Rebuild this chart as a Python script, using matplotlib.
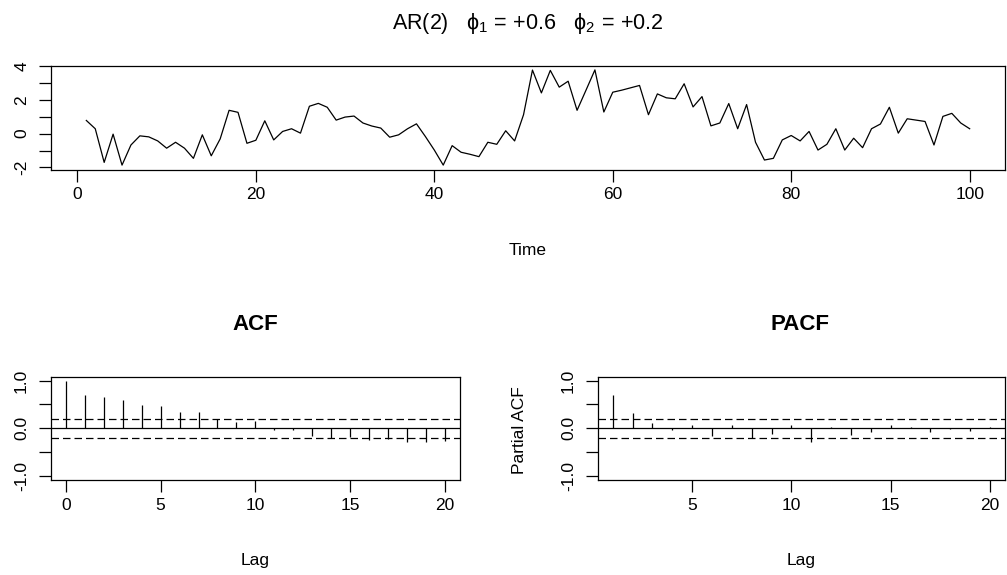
import matplotlib
matplotlib.use('Agg')
import matplotlib.pyplot as plt

# 그림에서 읽은 값
time = list(range(1, 101))
series = [0.78, 0.29, -1.70, -0.03, -1.86, -0.67, -0.13, -0.19, -0.43, -0.86,
          -0.51, -0.86, -1.46, -0.07, -1.31, -0.31, 1.38, 1.26, -0.57, -0.39,
          0.76, -0.37, 0.13, 0.29, 0.03, 1.62, 1.79, 1.56, 0.80, 0.98,
          1.04, 0.63, 0.45, 0.33, -0.21, -0.07, 0.29, 0.58, -0.17, -0.97,
          -1.86, -0.71, -1.10, -1.22, -1.36, -0.51, -0.63, 0.17, -0.43, 1.12,
          3.76, 2.41, 3.74, 2.75, 3.10, 1.38, 2.57, 3.77, 1.28, 2.45,
          2.57, 2.71, 2.85, 1.12, 2.35, 2.12, 2.06, 2.95, 1.58, 2.19,
          0.46, 0.63, 1.78, 0.29, 1.72, -0.51, -1.56, -1.46, -0.37, -0.11,
          -0.43, 0.13, -0.97, -0.63, 0.29, -0.97, -0.27, -0.83, 0.29, 0.57,
          1.56, 0.03, 0.88, 0.80, 0.72, -0.67, 1.02, 1.20, 0.63, 0.29]

acf_lags = list(range(0, 21))
acf_vals = [1.0, 0.69, 0.65, 0.59, 0.49, 0.47, 0.35, 0.35, 0.19, 0.14, 0.15,
            -0.03, -0.04, -0.17, -0.21, -0.19, -0.24, -0.22, -0.29, -0.29, -0.26]

pacf_lags = list(range(1, 21))
pacf_vals = [0.69, 0.32, 0.11, -0.03, 0.06, -0.17, 0.08, -0.20, -0.12, 0.08,
             -0.29, 0.03, -0.14, -0.08, 0.08, 0.03, -0.08, -0.01, -0.06, 0.03]

ci = 0.196
title = r'AR(2)   $\mathrm{\phi}_1\,=\,{+}0.6$   $\mathrm{\phi}_2\,=\,{+}0.2$'

plt.rcParams['font.family'] = ['Liberation Sans', 'DejaVu Sans']
plt.rcParams['mathtext.fontset'] = 'custom'
plt.rcParams['mathtext.rm'] = 'Liberation Sans'
plt.rcParams['mathtext.it'] = 'Liberation Sans:italic'
plt.rcParams['font.size'] = 12.5
plt.rcParams['axes.linewidth'] = 0.9

W, H = 1007, 575
fig = plt.figure(figsize=(W / 100, H / 100), dpi=100)

def box(l, t, r, b):
    return fig.add_axes([l / W, 1 - b / H, (r - l) / W, (b - t) / H])

def r_style(ax):
    ax.tick_params(direction='out', length=8.6, width=0.9, color='black', pad=4)
    ax.tick_params(axis='y', labelrotation=90, pad=7)
    for lab in ax.get_yticklabels():
        lab.set_va('center')

# 시계열
ax = box(51, 66, 1005, 169.5)
ax.plot(time, series, color='black', lw=0.9)
ax.set_xlim(1 - 0.04 * 99, 100 + 0.04 * 99)
ax.set_ylim(-2.12, 4.0)
ax.set_xticks([0, 20, 40, 60, 80, 100])
ax.set_yticks([-2, -1, 0, 1, 2, 3, 4])
ax.set_yticklabels(['-2', '', '0', '', '2', '', '4'])
r_style(ax)
ax.set_xlabel('Time')
ax.xaxis.set_label_coords(0.5, -0.71)
ax.xaxis.label.set_va('top')
fig.text(527.5 / W, 1 - 23 / H, title, ha='center', va='center', size=15.5)

# ACF
ax1 = box(50.7, 376.7, 460, 480)
ax1.vlines(acf_lags, 0, acf_vals, color='black', lw=0.9)
ax1.axhline(0, color='black', lw=0.9)
for c in (ci, -ci):
    ax1.axhline(c, color='black', lw=0.9, ls=(0, (6, 3.2)))
ax1.set_xlim(-0.8, 20.8)
ax1.set_ylim(-1.08, 1.08)
ax1.set_xticks([0, 5, 10, 15, 20])
ax1.set_yticks([-1, -0.5, 0, 0.5, 1])
ax1.set_yticklabels(['-1.0', '', '0.0', '', '1.0'])
r_style(ax1)
ax1.set_xlabel('Lag')
ax1.xaxis.set_label_coords(0.5, -0.71)
ax1.xaxis.label.set_va('top')
fig.text(255 / W, 1 - 324 / H, 'ACF', ha='center', va='center', size=16, weight='bold')

# PACF
ax2 = box(597.7, 376.7, 1005, 480)
ax2.vlines(pacf_lags, 0, pacf_vals, color='black', lw=0.9)
ax2.axhline(0, color='black', lw=0.9)
for c in (ci, -ci):
    ax2.axhline(c, color='black', lw=0.9, ls=(0, (6, 3.2)))
ax2.set_xlim(1 - 0.04 * 19, 20 + 0.04 * 19)
ax2.set_ylim(-1.08, 1.08)
ax2.set_xticks([5, 10, 15, 20])
ax2.set_yticks([-1, -0.5, 0, 0.5, 1])
ax2.set_yticklabels(['-1.0', '', '0.0', '', '1.0'])
r_style(ax2)
ax2.set_xlabel('Lag')
ax2.xaxis.set_label_coords(0.5, -0.71)
ax2.xaxis.label.set_va('top')
fig.text(800 / W, 1 - 324 / H, 'PACF', ha='center', va='center', size=16, weight='bold')
fig.text(520 / W, 1 - 430 / H, 'Partial ACF', ha='center', va='center', rotation=90)

fig.savefig('out.png', dpi=100)
